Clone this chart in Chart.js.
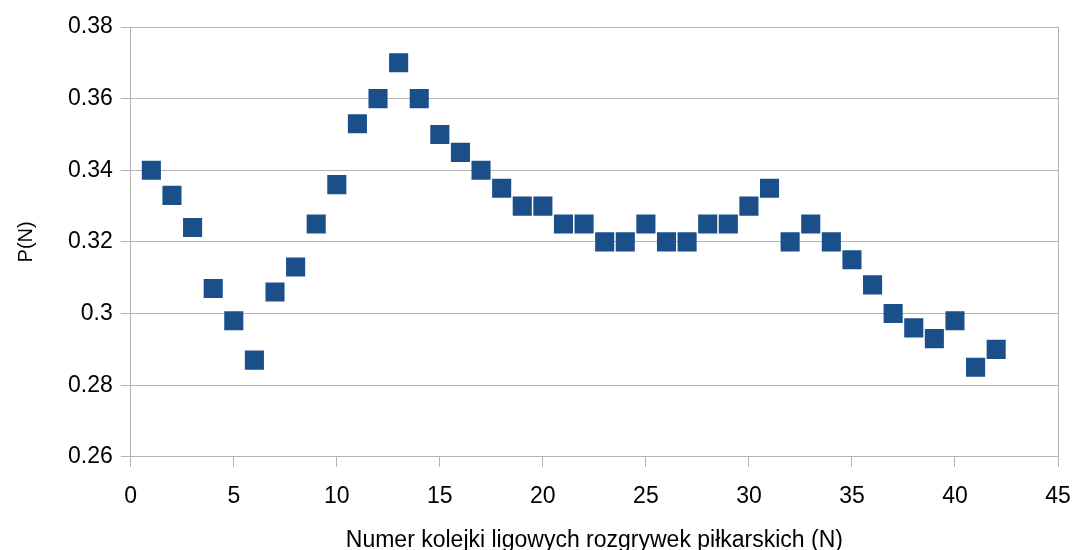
<!DOCTYPE html>
<html>
<head>
<meta charset="utf-8">
<script src="https://cdn.jsdelivr.net/npm/chart.js@4/dist/chart.umd.min.js"></script>
<style>
  html, body { margin: 0; padding: 0; background: #fff; }
  #wrap { width: 1075px; height: 550px; }
</style>
</head>
<body>
<div id="wrap"><canvas id="chart"></canvas></div>
<script>
// round number N (1..42) and estimated P(N)
const rounds = [1, 2, 3, 4, 5, 6, 7, 8, 9, 10, 11, 12, 13, 14, 15, 16, 17, 18, 19, 20, 21,
  22, 23, 24, 25, 26, 27, 28, 29, 30, 31, 32, 33, 34, 35, 36, 37, 38, 39, 40, 41, 42];
const probs = [0.340, 0.333, 0.324, 0.307, 0.298, 0.287, 0.306, 0.313, 0.325, 0.336, 0.353,
  0.360, 0.370, 0.360, 0.350, 0.345, 0.340, 0.335, 0.330, 0.330, 0.325, 0.325, 0.320,
  0.320, 0.325, 0.320, 0.320, 0.325, 0.325, 0.330, 0.335, 0.320, 0.325, 0.320, 0.315,
  0.308, 0.300, 0.296, 0.293, 0.298, 0.285, 0.290];
const xTitle = 'Numer kolejki ligowych rozgrywek piłkarskich (N)';
const yTitle = 'P(N)';

const MARK = '#1b4f8a';
const GRID = '#b3b3b3';
const FONT = 'Liberation Sans';
const X_MAX = 45;

const points = rounds.map((n, i) => ({ x: n, y: probs[i] }));

new Chart(document.getElementById('chart'), {
  type: 'scatter',
  data: {
    datasets: [{
      data: points,
      pointStyle: 'rect',
      pointRadius: 13.5,
      pointHoverRadius: 13.5,
      backgroundColor: MARK,
      borderColor: MARK,
      borderWidth: 0,
    }],
  },
  options: {
    responsive: true,
    maintainAspectRatio: false,
    animation: false,
    layout: { padding: { top: 27, right: 17, left: 14, bottom: -4 } },
    plugins: { legend: { display: false }, tooltip: { enabled: false } },
    scales: {
      x: {
        type: 'linear',
        min: 0, max: X_MAX,
        // the "45" label overhang would otherwise push the plot too far left
        afterFit: (scale) => { scale.paddingRight = 0; },
        ticks: { stepSize: 5, color: '#000', font: { family: FONT, size: 23 }, padding: 16 },
        // only the last vertical line (right frame edge) is drawn inside the plot
        grid: {
          color: (ctx) => (ctx.tick && ctx.tick.value === X_MAX ? GRID : 'rgba(0,0,0,0)'),
          tickColor: GRID,
          tickLength: 10,
        },
        border: { color: GRID, width: 1 },
        title: { display: true, text: xTitle, color: '#000', font: { family: FONT, size: 23 }, padding: { top: 0, bottom: 0 } },
      },
      y: {
        min: 0.26, max: 0.38,
        ticks: {
          stepSize: 0.02, color: '#000', font: { family: FONT, size: 23 }, padding: 8,
          callback: (v) => String(+v.toFixed(2)),
        },
        grid: { color: GRID, tickLength: 10 },
        border: { color: GRID, width: 1 },
        title: { display: true, text: yTitle, color: '#000', font: { family: FONT, size: 20 }, padding: { top: 0, bottom: 22 } },
      },
    },
  },
});
</script>
</body>
</html>
